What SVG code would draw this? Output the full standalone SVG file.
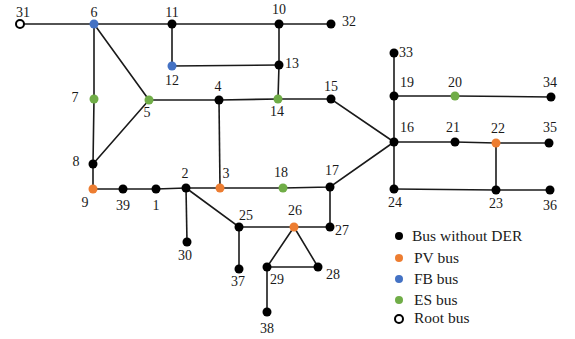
<svg xmlns="http://www.w3.org/2000/svg" width="575" height="339" viewBox="0 0 575 339">
  <style>
    .edge { stroke: #1a1a1a; stroke-width: 1.6; fill: none; }
    .bus { fill: #000; }
    .pv { fill: #ED7D31; }
    .fb { fill: #4472C4; }
    .es { fill: #70AD47; }
    .root { fill: #fff; stroke: #000; stroke-width: 2; }
    text { font-family: 'Liberation Serif', 'DejaVu Serif', serif; font-size: 14px; fill: #1a1a1a; }
    .legend text { font-size: 15.5px; }
    .m { text-anchor: middle; }
  </style>
  <rect width="575" height="339" fill="#fff"/>
  <g id="connectors">
    <path class="edge" d="M20 24 L94 24 L172 24 L279 24 L331 24"/>
    <path class="edge" d="M172 24 L172 66 L279 65"/>
    <path class="edge" d="M279 24 L279 65 L278 99"/>
    <path class="edge" d="M94 24 L94 99 L93 164 L93 189"/>
    <path class="edge" d="M94 24 L149 100 L93 164"/>
    <path class="edge" d="M149 100 L219 100 L278 99 L331 99 L394 142"/>
    <path class="edge" d="M219 100 L220 188"/>
    <path class="edge" d="M93 189 L123 189 L156 189 L186 188 L220 188 L283 188 L330 187 L394 142"/>
    <path class="edge" d="M186 188 L187 242"/>
    <path class="edge" d="M186 188 L239 227 L294 227 L330 227 L330 187"/>
    <path class="edge" d="M239 227 L239 269"/>
    <path class="edge" d="M294 227 L267 267 L318 267 Z"/>
    <path class="edge" d="M267 267 L267 312"/>
    <path class="edge" d="M394 53 L394 96 L394 142 L394 189"/>
    <path class="edge" d="M394 96 L455 96 L551 97"/>
    <path class="edge" d="M394 142 L455 142 L496 143 L549 143"/>
    <path class="edge" d="M496 143 L496 190"/>
    <path class="edge" d="M394 189 L496 190 L550 190"/>
  </g>
  <g id="bus31"><circle class="root" cx="20" cy="24" r="4"/><text class="m" x="23" y="17">31</text></g>
  <g id="bus6"><circle class="fb" cx="94" cy="24" r="4.5"/><text class="m" x="94" y="17">6</text></g>
  <g id="bus11"><circle class="bus" cx="172" cy="24" r="4.5"/><text class="m" x="172" y="17">11</text></g>
  <g id="bus10"><circle class="bus" cx="279" cy="24" r="4.5"/><text class="m" x="279" y="14">10</text></g>
  <g id="bus32"><circle class="bus" cx="331" cy="24" r="4.5"/><text x="342" y="26">32</text></g>
  <g id="bus12"><circle class="fb" cx="172" cy="66" r="4.5"/><text class="m" x="172" y="85">12</text></g>
  <g id="bus13"><circle class="bus" cx="279" cy="65" r="4.5"/><text x="285" y="68">13</text></g>
  <g id="bus7"><circle class="es" cx="94" cy="99" r="4.5"/><text class="m" x="75" y="102">7</text></g>
  <g id="bus5"><circle class="es" cx="149" cy="100" r="4.5"/><text class="m" x="147" y="117">5</text></g>
  <g id="bus4"><circle class="bus" cx="219" cy="100" r="4.5"/><text class="m" x="218" y="91">4</text></g>
  <g id="bus14"><circle class="es" cx="278" cy="99" r="4.5"/><text class="m" x="277" y="116">14</text></g>
  <g id="bus15"><circle class="bus" cx="331" cy="99" r="4.5"/><text class="m" x="331" y="91">15</text></g>
  <g id="bus8"><circle class="bus" cx="93" cy="164" r="4.5"/><text class="m" x="76" y="166">8</text></g>
  <g id="bus9"><circle class="pv" cx="93" cy="189" r="4.5"/><text class="m" x="85" y="207">9</text></g>
  <g id="bus39"><circle class="bus" cx="123" cy="189" r="4.5"/><text class="m" x="123" y="210">39</text></g>
  <g id="bus1"><circle class="bus" cx="156" cy="189" r="4.5"/><text class="m" x="156" y="210">1</text></g>
  <g id="bus2"><circle class="bus" cx="186" cy="188" r="4.5"/><text class="m" x="185" y="178">2</text></g>
  <g id="bus3"><circle class="pv" cx="220" cy="188" r="4.5"/><text class="m" x="226" y="178">3</text></g>
  <g id="bus18"><circle class="es" cx="283" cy="188" r="4.5"/><text class="m" x="281" y="177">18</text></g>
  <g id="bus17"><circle class="bus" cx="330" cy="187" r="4.5"/><text class="m" x="332" y="175">17</text></g>
  <g id="bus30"><circle class="bus" cx="187" cy="242" r="4.5"/><text class="m" x="185" y="260">30</text></g>
  <g id="bus25"><circle class="bus" cx="239" cy="227" r="4.5"/><text class="m" x="246" y="220">25</text></g>
  <g id="bus26"><circle class="pv" cx="294" cy="227" r="4.5"/><text class="m" x="295" y="215">26</text></g>
  <g id="bus27"><circle class="bus" cx="330" cy="227" r="4.5"/><text x="335" y="235">27</text></g>
  <g id="bus37"><circle class="bus" cx="239" cy="269" r="4.5"/><text class="m" x="238" y="286">37</text></g>
  <g id="bus29"><circle class="bus" cx="267" cy="267" r="4.5"/><text class="m" x="277" y="284">29</text></g>
  <g id="bus28"><circle class="bus" cx="318" cy="267" r="4.5"/><text class="m" x="333" y="279">28</text></g>
  <g id="bus38"><circle class="bus" cx="267" cy="312" r="4.5"/><text class="m" x="267" y="333">38</text></g>
  <g id="bus33"><circle class="bus" cx="394" cy="53" r="4.5"/><text x="399" y="57">33</text></g>
  <g id="bus19"><circle class="bus" cx="394" cy="96" r="4.5"/><text x="400" y="87">19</text></g>
  <g id="bus20"><circle class="es" cx="455" cy="96" r="4.5"/><text class="m" x="455" y="87">20</text></g>
  <g id="bus34"><circle class="bus" cx="551" cy="97" r="4.5"/><text class="m" x="550" y="87">34</text></g>
  <g id="bus16"><circle class="bus" cx="394" cy="142" r="4.5"/><text x="400" y="132">16</text></g>
  <g id="bus21"><circle class="bus" cx="455" cy="142" r="4.5"/><text class="m" x="453" y="132">21</text></g>
  <g id="bus22"><circle class="pv" cx="496" cy="143" r="4.5"/><text class="m" x="498" y="133">22</text></g>
  <g id="bus35"><circle class="bus" cx="549" cy="143" r="4.5"/><text class="m" x="550" y="132">35</text></g>
  <g id="bus24"><circle class="bus" cx="394" cy="189" r="4.5"/><text class="m" x="395" y="207">24</text></g>
  <g id="bus23"><circle class="bus" cx="496" cy="190" r="4.5"/><text class="m" x="496" y="208">23</text></g>
  <g id="bus36"><circle class="bus" cx="550" cy="190" r="4.5"/><text class="m" x="550" y="210">36</text></g>
  <g id="legend" class="legend">
    <circle class="bus" cx="399" cy="236" r="4"/><text x="412" y="241">Bus without DER</text>
    <circle class="pv" cx="399" cy="258" r="4"/><text x="414" y="263">PV bus</text>
    <circle class="fb" cx="399" cy="279" r="4"/><text x="414" y="284">FB bus</text>
    <circle class="es" cx="399" cy="300" r="4"/><text x="414" y="305">ES bus</text>
    <circle class="root" cx="399" cy="319" r="4"/><text x="414" y="323">Root bus</text>
  </g>
</svg>
